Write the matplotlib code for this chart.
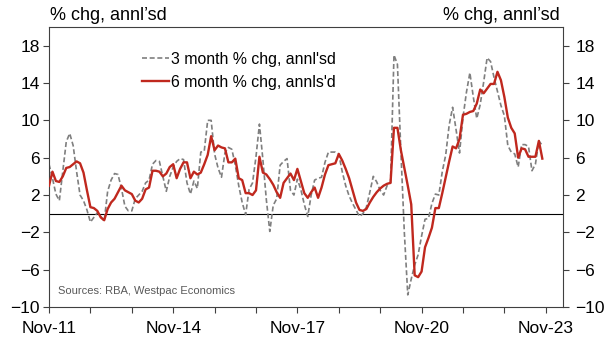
import numpy as np
import pandas as pd
import matplotlib
matplotlib.use("Agg")
import matplotlib.pyplot as plt

plt.rcParams['font.family'] = ['Liberation Sans', 'DejaVu Sans']

# monthly, Nov-11 .. Oct-23
dates = pd.date_range("2011-11-01", periods=144, freq="MS")

three_month = [
    5.3, 3.8, 2.1, 1.4, 4.5, 7.7, 8.6, 7.3, 4.5, 2.0, 1.4, 0.4,
    -0.9, -0.4, 0.1, -0.3, -0.8, 2.4, 3.6, 4.3, 4.2, 2.7, 0.8, 0.3,
    0.3, 1.6, 2.0, 2.4, 3.3, 3.6, 5.3, 5.7, 5.6, 4.0, 2.4, 4.0,
    5.0, 5.6, 5.9, 5.8, 3.3, 2.1, 3.5, 2.7, 6.6, 6.7, 10.0, 10.0,
    6.4, 4.9, 3.9, 6.5, 7.1, 6.9, 5.2, 3.0, 1.2, -0.1, 2.6, 3.3,
    6.1, 9.6, 5.8, 1.5, -1.9, 0.9, 1.6, 5.2, 5.6, 5.9, 2.5, 2.0,
    3.7, 2.6, 1.0, -0.3, 2.0, 3.6, 3.8, 3.9, 5.5, 6.6, 6.6, 6.6,
    6.4, 4.5, 3.0, 1.9, 1.1, 0.4, -0.3, 0.0, 0.7, 2.3, 4.0, 3.4,
    2.5, 2.0, 3.0, 3.3, 17.0, 16.0, 6.7, -2.0, -8.7, -7.0, -5.5, -4.4,
    -2.4, -0.6, -0.5, 1.1, 2.1, 2.0, 4.5, 6.3, 9.5, 11.4, 9.0, 6.5,
    10.3, 13.0, 15.1, 12.5, 10.2, 11.7, 14.1, 16.7, 16.3, 14.6, 13.1, 11.6,
    10.5, 7.3, 6.6, 6.4, 5.0, 7.4, 7.4, 7.2, 4.6, 5.3, 7.8, 7.3,
]

six_month = [
    3.0, 4.5, 3.5, 3.4, 4.0, 4.9, 5.0, 5.3, 5.6, 5.4, 4.4, 2.5,
    0.7, 0.6, 0.3, -0.4, -0.7, 0.5, 1.2, 1.6, 2.3, 3.0, 2.5, 2.3,
    2.1, 1.4, 1.2, 1.6, 2.6, 2.8, 4.6, 4.6, 4.5, 4.0, 4.3, 5.0,
    5.3, 3.8, 4.8, 5.5, 5.5, 3.8, 4.5, 4.2, 4.4, 5.3, 6.3, 8.3,
    6.8, 7.3, 7.1, 7.0, 5.5, 5.5, 5.9, 3.8, 3.6, 2.2, 2.2, 2.0,
    2.5, 6.1, 4.4, 4.2, 3.7, 3.1, 2.3, 1.7, 3.3, 3.8, 4.3, 3.6,
    4.8, 3.5, 2.2, 1.7, 2.3, 2.8, 1.7, 2.8, 4.2, 5.2, 5.3, 5.4,
    6.4, 5.7, 4.8, 3.8, 2.5, 1.2, 0.4, 0.3, 0.5, 1.2, 1.8, 2.3,
    2.7, 3.0, 3.2, 3.3, 9.2, 9.2, 6.8, 4.9, 3.0, 1.0, -6.6, -6.8,
    -6.2, -3.6, -2.6, -1.5, 0.6, 0.6, 2.2, 3.9, 5.6, 7.2, 7.0, 8.0,
    10.6, 10.7, 10.9, 11.0, 11.8, 13.3, 12.9, 13.4, 13.9, 13.9, 15.2, 14.3,
    12.5, 10.3, 9.2, 8.6, 6.0, 7.0, 6.9, 6.1, 6.1, 6.1, 7.8, 5.9,
]

y_ticks = [-10, -6, -2, 2, 6, 10, 14, 18]

x = np.arange(len(dates))
axis_col = "#404040"
fs = 12.5

fig = plt.figure(figsize=(6.05, 3.42), dpi=100)
ax = fig.add_axes([0.081, 0.1023, 0.8496, 0.8187])

ax.axhline(0, color="black", lw=0.8, zorder=1)
ax.plot(x, three_month, color="#7f7f7f", lw=1.2, ls=(0, (3, 1.6)),
        label="3 month % chg, annl'sd", zorder=2)
ax.plot(x, six_month, color="#c0281e", lw=1.7,
        label="6 month % chg, annls'd", zorder=3)

ax.set_xlim(0, 149)
ax.set_ylim(-10, 20)

# x ticks every November, labels every three years
tick_pos = np.arange(0, 145, 12)
ax.set_xticks(tick_pos)
labels = []
for p in tick_pos:
    d = pd.Timestamp("2011-11-01") + pd.DateOffset(months=int(p))
    labels.append(d.strftime("%b-%y") if (p // 12) % 3 == 0 else "")
ax.set_xticklabels(labels)

ax.set_yticks(y_ticks)
ax.tick_params(axis="y", direction="out", length=4, width=0.8,
               labelsize=fs, pad=2.5, colors=axis_col, labelcolor="black")
ax.tick_params(axis="x", direction="out", length=4, width=0.8,
               labelsize=fs, pad=6, colors=axis_col, labelcolor="black")
for s in ax.spines.values():
    s.set_color(axis_col)
    s.set_linewidth(0.8)

# right hand axis, same scale
ax2 = ax.twinx()
ax2.set_ylim(ax.get_ylim())
ax2.set_yticks(y_ticks)
ax2.tick_params(axis="y", direction="out", length=4, width=0.8,
                labelsize=fs, pad=5, colors=axis_col, labelcolor="black")
for s in ax2.spines.values():
    s.set_visible(False)

fig.text(0.083, 0.955, "% chg, annl\u2019sd", fontsize=13, ha="left", va="center")
fig.text(0.926, 0.955, "% chg, annl\u2019sd", fontsize=13, ha="right", va="center")

ax.legend(loc="upper left", bbox_to_anchor=(0.181, 0.912), frameon=False,
          fontsize=11.4, handlelength=1.7, handletextpad=0.1, borderpad=0,
          borderaxespad=0, labelspacing=0.5)

ax.text(0.018, 0.057, "Sources: RBA, Westpac Economics", transform=ax.transAxes,
        fontsize=8, color="#595959", ha="left", va="center")

fig.savefig("out.png", dpi=100)
